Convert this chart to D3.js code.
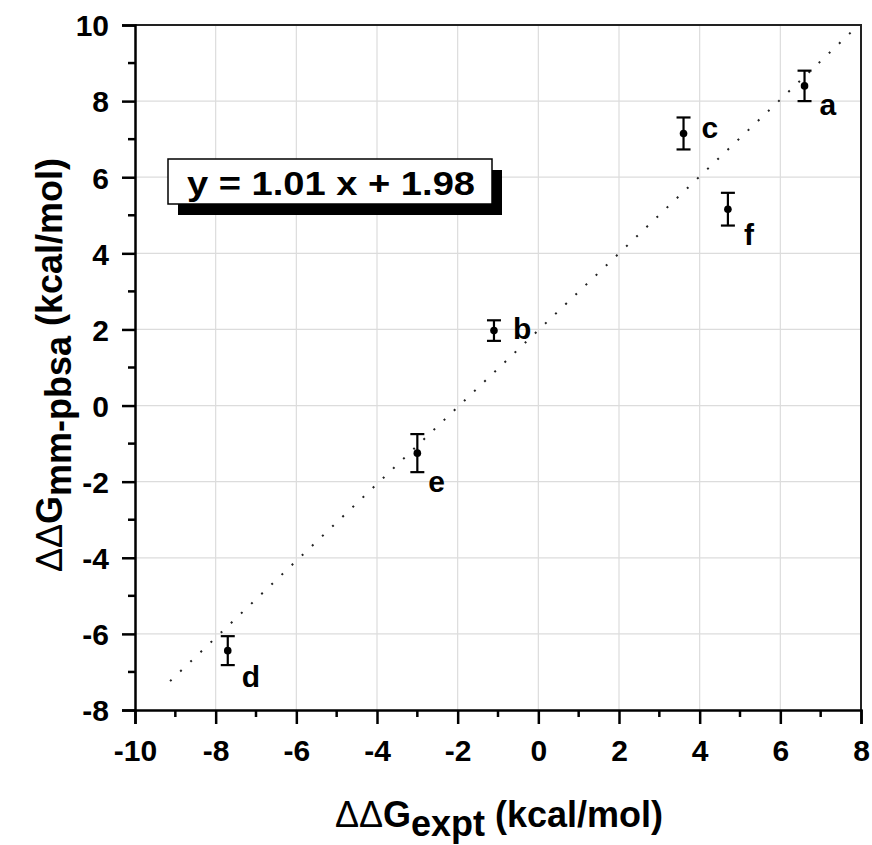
<!DOCTYPE html>
<html>
<head>
<meta charset="utf-8">
<script src="https://cdn.jsdelivr.net/npm/d3@7"></script>
<style>
  body { margin: 0; background: #fff; }
  text { font-family: "Liberation Sans", Arial, sans-serif; font-weight: bold; fill: #000; }
</style>
</head>
<body>
<div class="chart"></div>
<script>
// data
var labels = ["a", "b", "c", "d", "e", "f"];
var expt = [6.6, -1.1, 3.6, -7.7, -3.0, 4.7];
var mmpbsa = [8.4, 1.97, 7.15, -6.44, -1.25, 5.16];
var err = [0.4, 0.27, 0.42, 0.38, 0.5, 0.43];
var fitSlope = 1.01, fitIntercept = 1.98, fitRange = [-9.13, 7.75];
var xTicks = [-10, -8, -6, -4, -2, 0, 2, 4, 6, 8];
var yTicks = [-8, -6, -4, -2, 0, 2, 4, 6, 8, 10];

// where each letter sits relative to its point (px)
var labelOffset = {a: [15, 29], b: [19, 8], c: [18, 5], d: [14, 36], e: [11, 39], f: [16, 36]};

var width = 872, height = 845;
var margin = ({top: 25, right: 11, bottom: 135, left: 135});

var svg = d3.select(".chart").append("svg")
    .attr("width", width)
    .attr("height", height);

var x = d3.scaleLinear().domain([-10, 8]).range([margin.left, width - margin.right]);
var y = d3.scaleLinear().domain([-8, 10]).range([height - margin.bottom, margin.top]);

var data = labels.map((l, i) => ({label: l, x: expt[i], y: mmpbsa[i], e: err[i]}));

// grid
svg.append("g")
    .selectAll("line")
    .data(xTicks.slice(1, -1))
    .join("line")
    .attr("x1", d => x(d)).attr("x2", d => x(d))
    .attr("y1", y(-8)).attr("y2", y(10))
    .attr("stroke", "#dcdcdc").attr("stroke-width", 1.2);
svg.append("g")
    .selectAll("line")
    .data(yTicks.slice(1, -1))
    .join("line")
    .attr("y1", d => y(d)).attr("y2", d => y(d))
    .attr("x1", x(-10)).attr("x2", x(8))
    .attr("stroke", "#dcdcdc").attr("stroke-width", 1.2);

// frame top/right
svg.append("path")
    .attr("d", "M" + x(-10) + "," + y(10) + "H" + x(8) + "V" + y(-8))
    .attr("fill", "none").attr("stroke", "#222").attr("stroke-width", 2);

// axes
var minorX = d3.range(-9, 8, 2), minorY = d3.range(-7, 10, 2);

var gx = svg.append("g").attr("transform", "translate(0," + y(-8) + ")");
gx.call(d3.axisBottom(x).tickValues(xTicks).tickSize(14).tickPadding(16).tickFormat(d => String(d)));
gx.append("g").selectAll("line").data(minorX).join("line")
    .attr("x1", d => x(d)).attr("x2", d => x(d)).attr("y1", 0).attr("y2", 7)
    .attr("stroke", "#000").attr("stroke-width", 2.5);

var gy = svg.append("g").attr("transform", "translate(" + x(-10) + ",0)");
gy.call(d3.axisLeft(y).tickValues(yTicks).tickSize(13).tickPadding(13).tickFormat(d => String(d)));
gy.append("g").selectAll("line").data(minorY).join("line")
    .attr("y1", d => y(d)).attr("y2", d => y(d)).attr("x1", 0).attr("x2", -7)
    .attr("stroke", "#000").attr("stroke-width", 2.5);

svg.selectAll(".domain").attr("stroke", "#000").attr("stroke-width", 2.5);
svg.selectAll(".tick line").attr("stroke", "#000").attr("stroke-width", 2.5);
svg.selectAll(".tick text")
    .style("font-family", "'Liberation Sans', Arial, sans-serif")
    .style("font-weight", "bold")
    .style("font-size", "30px")
    .attr("fill", "#000");
gy.selectAll(".tick text").attr("dy", "0.36em");

// fit line
svg.append("line")
    .attr("x1", x(fitRange[0])).attr("y1", y(fitSlope * fitRange[0] + fitIntercept))
    .attr("x2", x(fitRange[1])).attr("y2", y(fitSlope * fitRange[1] + fitIntercept))
    .attr("stroke", "#222").attr("stroke-width", 2)
    .attr("stroke-dasharray", "2,12");

// error bars
var eb = svg.append("g").attr("stroke", "#000").attr("stroke-width", 2.2);
eb.selectAll(".v").data(data).join("line").attr("class", "v")
    .attr("x1", d => x(d.x)).attr("x2", d => x(d.x))
    .attr("y1", d => y(d.y - d.e)).attr("y2", d => y(d.y + d.e));
eb.selectAll(".t").data(data).join("line").attr("class", "t")
    .attr("x1", d => x(d.x) - 7).attr("x2", d => x(d.x) + 7)
    .attr("y1", d => y(d.y + d.e)).attr("y2", d => y(d.y + d.e));
eb.selectAll(".b").data(data).join("line").attr("class", "b")
    .attr("x1", d => x(d.x) - 7).attr("x2", d => x(d.x) + 7)
    .attr("y1", d => y(d.y - d.e)).attr("y2", d => y(d.y - d.e));

svg.append("g").selectAll("circle").data(data).join("circle")
    .attr("cx", d => x(d.x)).attr("cy", d => y(d.y)).attr("r", 3.8)
    .attr("fill", "#000");

svg.append("g").selectAll("text").data(data).join("text")
    .attr("x", d => x(d.x) + labelOffset[d.label][0])
    .attr("y", d => y(d.y) + labelOffset[d.label][1])
    .style("font-size", "30px")
    .text(d => d.label);

// equation box
var bx = 168, by = 159, bw = 324, bh = 45;
svg.append("rect").attr("x", bx + 10).attr("y", by + 11).attr("width", bw).attr("height", bh).attr("fill", "#000");
svg.append("rect").attr("x", bx).attr("y", by).attr("width", bw).attr("height", bh)
    .attr("fill", "#fff").attr("stroke", "#000").attr("stroke-width", 1.5);
svg.append("text").attr("x", bx + 19).attr("y", by + 36)
    .style("font-size", "34px")
    .attr("textLength", 288).attr("lengthAdjust", "spacingAndGlyphs")
    .text("y = " + fitSlope.toFixed(2) + " x + " + fitIntercept.toFixed(2));

// axis titles
var xt = svg.append("text").attr("x", 499).attr("y", 827)
    .attr("text-anchor", "middle").style("font-size", "36px");
xt.append("tspan").style("font-weight", "normal").text("\u0394\u0394");
xt.append("tspan").text("G");
xt.append("tspan").attr("dy", 9).text("expt");
xt.append("tspan").attr("dy", -9).text(" (kcal/mol)");

var yt = svg.append("text")
    .attr("transform", "translate(62,365) rotate(-90)")
    .attr("text-anchor", "middle").style("font-size", "36px");
yt.append("tspan").style("font-weight", "normal").text("\u0394\u0394");
yt.append("tspan").text("G");
yt.append("tspan").attr("dy", 9).text("mm-pbsa");
yt.append("tspan").attr("dy", -9).text(" (kcal/mol)");
</script>
</body>
</html>
